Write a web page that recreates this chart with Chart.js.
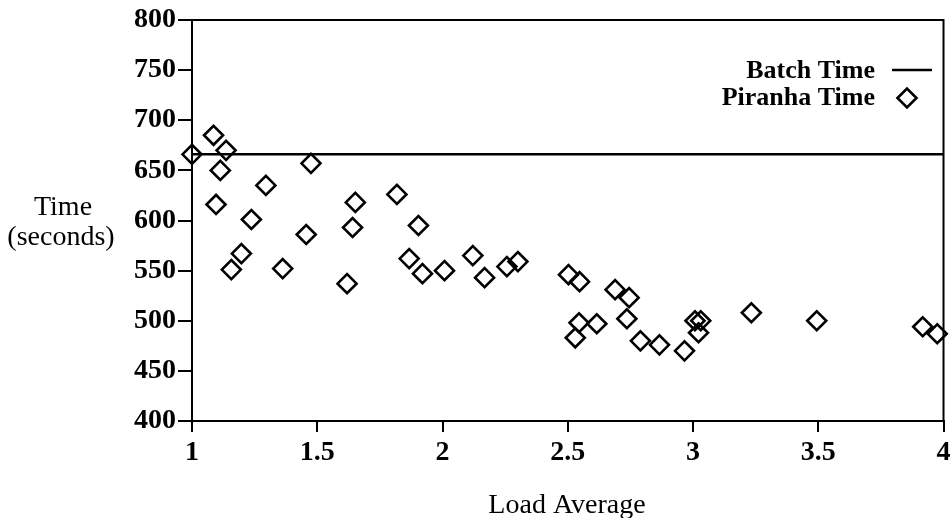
<!DOCTYPE html>
<html lang="en">
<head>
    <meta charset="UTF-8">
    <title>Time vs Load Average</title>
    <style>
        body {
            margin: 0;
            background-color: #ffffff;
        }
        .container {
            position: relative;
            width: 952px;
            height: 518px;
        }
    </style>
</head>
<body>
    <div class="container">
        <canvas id="loadChart"></canvas>
    </div>

    <script src="https://cdn.jsdelivr.net/npm/chart.js"></script>
    <script>
        // values
        const loadAverage = [1.0, 1.086, 1.136, 1.113, 1.096, 1.157, 1.197, 1.237, 1.295, 1.362,
            1.456, 1.475, 1.619, 1.641, 1.652, 1.818, 1.867, 1.904, 1.920, 2.008,
            2.121, 2.168, 2.257, 2.301, 2.503, 2.547, 2.530, 2.545, 2.616, 2.689,
            2.745, 2.736, 2.790, 2.866, 2.966, 3.008, 3.031, 3.022, 3.233, 3.494,
            3.917, 3.975];
        const piranhaTime = [666, 685, 670, 650, 616, 551, 567, 601, 635, 552,
            586, 657, 537, 593, 618, 626, 562, 595, 547, 550,
            565, 543, 554, 559, 546, 539, 483, 498, 497, 531,
            523, 502, 480, 476, 470, 500, 500, 488, 508, 500,
            494, 487];
        const batchTime = 666;
        const xRange = [1, 4];
        const yRange = [400, 800];

        const serif = '"Liberation Serif", "Times New Roman", serif';

        // frame, axis titles and the in-plot legend
        const decorations = {
            id: 'decorations',
            afterDraw(chart) {
                const ctx = chart.ctx;
                const area = chart.chartArea;
                ctx.save();
                ctx.strokeStyle = '#000';
                ctx.lineWidth = 2;
                ctx.strokeRect(area.left, area.top, area.right - area.left, area.bottom - area.top);

                ctx.fillStyle = '#000';
                ctx.font = '28px ' + serif;
                ctx.textAlign = 'center';
                ctx.textBaseline = 'alphabetic';
                ctx.fillText('Time', 63, 215);
                ctx.fillText('(seconds)', 61, 245);
                ctx.fillText('Load Average', 567, 513);

                // legend
                const sets = chart.data.datasets;
                ctx.font = 'bold 26px ' + serif;
                ctx.textAlign = 'right';
                ctx.fillText(sets[0].label, 875, 78);
                ctx.fillText(sets[1].label, 875, 105);

                ctx.lineWidth = sets[0].borderWidth;
                ctx.beginPath();
                ctx.moveTo(892, 70);
                ctx.lineTo(932, 70);
                ctx.stroke();

                const r = sets[1].pointRadius;
                const cx = 907, cy = 98;
                ctx.lineWidth = sets[1].borderWidth;
                ctx.beginPath();
                ctx.moveTo(cx - r, cy);
                ctx.lineTo(cx, cy - r);
                ctx.lineTo(cx + r, cy);
                ctx.lineTo(cx, cy + r);
                ctx.closePath();
                ctx.stroke();
                ctx.restore();
            }
        };

        const ctx = document.getElementById('loadChart').getContext('2d');
        const loadChart = new Chart(ctx, {
            type: 'scatter',
            data: {
                datasets: [{
                    type: 'line',
                    label: 'Batch Time',
                    data: [{ x: xRange[0], y: batchTime }, { x: xRange[1], y: batchTime }],
                    borderColor: '#000',
                    borderWidth: 2.5,
                    pointRadius: 0,
                    fill: false
                }, {
                    label: 'Piranha Time',
                    data: loadAverage.map((x, i) => ({ x: x, y: piranhaTime[i] })),
                    pointStyle: 'rectRot',
                    pointRadius: 9.5,
                    pointHoverRadius: 9.5,
                    borderWidth: 2.6,
                    borderColor: '#000',
                    backgroundColor: 'rgba(0,0,0,0)',
                    clip: false
                }]
            },
            options: {
                responsive: true,
                maintainAspectRatio: false,
                devicePixelRatio: 1,
                animation: false,
                layout: {
                    autoPadding: false,
                    padding: { top: 20, right: 8.5, left: 0, bottom: 0 }
                },
                plugins: {
                    legend: { display: false },
                    tooltip: { enabled: false }
                },
                scales: {
                    x: {
                        type: 'linear',
                        min: xRange[0],
                        max: xRange[1],
                        afterFit(scale) {
                            scale.height = 97;
                            scale.paddingRight = 0;
                            scale.paddingLeft = 0;
                        },
                        ticks: {
                            stepSize: 0.5,
                            color: '#000',
                            padding: 4,
                            maxRotation: 0,
                            callback: (value) => String(value),
                            font: { family: serif, size: 28, weight: 'bold' }
                        },
                        grid: {
                            drawOnChartArea: false,
                            color: '#000',
                            lineWidth: 2,
                            tickLength: 11
                        },
                        border: { color: '#000', width: 2 }
                    },
                    y: {
                        min: yRange[0],
                        max: yRange[1],
                        afterFit(scale) { scale.width = 192; },
                        ticks: {
                            stepSize: 50,
                            color: '#000',
                            padding: 2,
                            font: { family: serif, size: 28, weight: 'bold' }
                        },
                        grid: {
                            drawOnChartArea: false,
                            color: '#000',
                            lineWidth: 2,
                            tickLength: 14
                        },
                        border: { color: '#000', width: 2 }
                    }
                }
            },
            plugins: [decorations]
        });
    </script>
</body>
</html>
